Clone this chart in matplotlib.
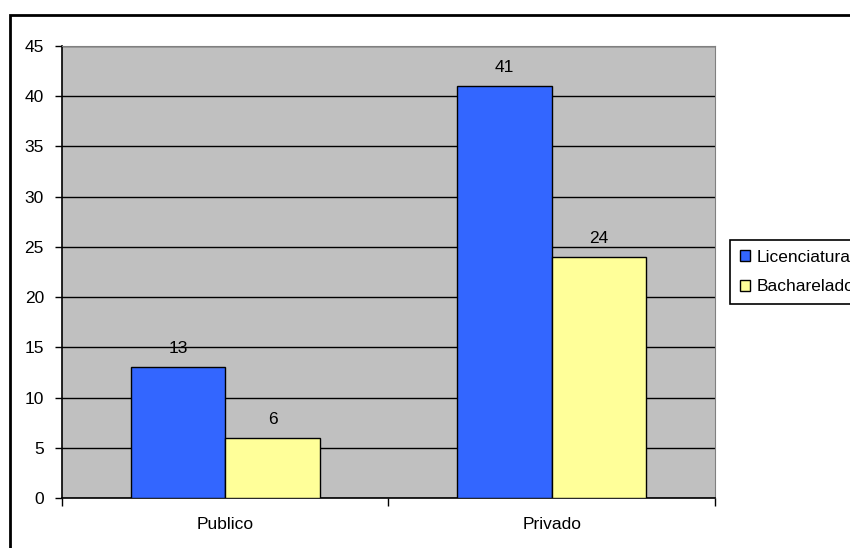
import matplotlib
matplotlib.use('Agg')
import matplotlib.pyplot as plt
import matplotlib.patches as patches
import numpy as np

plt.rcParams['font.family'] = ['Liberation Sans', 'DejaVu Sans']

categorias = ['Publico', 'Privado']
licenciatura = [13, 41]
bacharelado = [6, 24]
series_nomes = ['Licenciatura', 'Bacharelado']

W, H = 850, 548
fs = 12.5
fig = plt.figure(figsize=(W / 100, H / 100), dpi=100)
# área do gráfico em pixels: x 62..715, y 46..498
ax = fig.add_axes([62 / W, 1 - 498 / H, (715 - 62) / W, (498 - 46) / H])
ax.set_facecolor('#C0C0C0')

x = np.arange(len(categorias))
largura = 0.29
b1 = ax.bar(x - largura / 2, licenciatura, largura, color='#3366FF',
            edgecolor='black', linewidth=1, label=series_nomes[0], zorder=3)
b2 = ax.bar(x + largura / 2, bacharelado, largura, color='#FFFF99',
            edgecolor='black', linewidth=1, label=series_nomes[1], zorder=3)

for barras in (b1, b2):
    for b in barras:
        ax.text(b.get_x() + b.get_width() / 2, b.get_height() + 1.1,
                f'{int(b.get_height())}', ha='center', va='bottom', fontsize=fs)

ax.set_xlim(-0.5, 1.5)
ax.set_ylim(0, 45)
ax.set_yticks(range(0, 46, 5))
ax.yaxis.grid(True, color='black', linewidth=1)
ax.set_axisbelow(True)

# marcas do eixo x nas divisões entre categorias
ax.set_xticks([-0.5, 0.5, 1.5])
ax.set_xticklabels([])
ax.set_xticks(x, minor=True)
ax.set_xticklabels(categorias, minor=True)
ax.tick_params(axis='x', which='minor', length=0, pad=14, labelsize=fs)
ax.tick_params(axis='x', which='major', length=6, width=1, direction='out')
ax.tick_params(axis='y', length=5, width=1, direction='out', pad=8, labelsize=fs)

for lado in ('top', 'right'):
    ax.spines[lado].set_color('#808080')
for lado in ('left', 'bottom'):
    ax.spines[lado].set_color('black')
    ax.spines[lado].set_linewidth(1.2)

leg = fig.legend(handles=[b1, b2], labels=series_nomes, loc='upper left',
                 bbox_to_anchor=(730 / W, 1 - 240 / H), bbox_transform=fig.transFigure,
                 borderaxespad=0, fancybox=False, edgecolor='black', framealpha=1,
                 fontsize=fs, handlelength=0.6, handleheight=0.6, handletextpad=0.4,
                 borderpad=0.55, labelspacing=0.85)
leg.get_frame().set_linewidth(1.2)

# moldura externa do gráfico
moldura = patches.Rectangle((10 / W, -0.1), 1.0, 1 - 15 / H + 0.1,
                            transform=fig.transFigure, fill=False,
                            edgecolor='black', linewidth=2, clip_on=False)
fig.patches.append(moldura)

fig.savefig('out.png', dpi=100)
